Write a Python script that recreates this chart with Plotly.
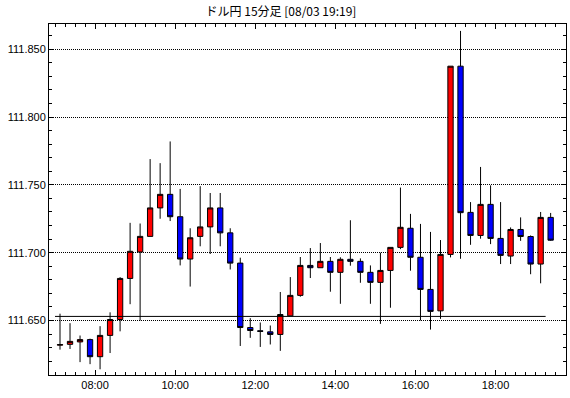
import plotly.graph_objects as go
import pandas as pd

title_text = "ドル円 15分足 [08/03 19:19]"
trade_date = "2018-08-03"

times = ["07:00", "07:15", "07:30", "07:45", "08:00", "08:15", "08:30", "08:45",
         "09:00", "09:15", "09:30", "09:45", "10:00", "10:15", "10:30", "10:45",
         "11:00", "11:15", "11:30", "11:45", "12:00", "12:15", "12:30", "12:45",
         "13:00", "13:15", "13:30", "13:45", "14:00", "14:15", "14:30", "14:45",
         "15:00", "15:15", "15:30", "15:45", "16:00", "16:15", "16:30", "16:45",
         "17:00", "17:15", "17:30", "17:45", "18:00", "18:15", "18:30", "18:45",
         "19:00", "19:15"]

open_ = [111.6318, 111.6324, 111.6342, 111.6359, 111.6233, 111.6390, 111.6507, 111.6810,
         111.7005, 111.7120, 111.7330, 111.7430, 111.7265, 111.6953, 111.7120, 111.7190,
         111.7330, 111.7146, 111.6923, 111.6448, 111.6424, 111.6416, 111.6397, 111.6534,
         111.6685, 111.6906, 111.6889, 111.6936, 111.6855, 111.6951, 111.6936, 111.6855,
         111.6781, 111.6869, 111.7039, 111.7180, 111.6966, 111.6729, 111.6571, 111.6987,
         111.8375, 111.7297, 111.7127, 111.7356, 111.7105, 111.6975, 111.7171, 111.7119,
         111.6916, 111.7260]
high = [111.6550, 111.6480, 111.6389, 111.6366, 111.6458, 111.6560, 111.6820, 111.7220,
        111.7215, 111.7690, 111.7660, 111.7820, 111.7470, 111.7180, 111.7490, 111.7440,
        111.7440, 111.7180, 111.6963, 111.6517, 111.6485, 111.6463, 111.6710, 111.6820,
        111.6968, 111.7034, 111.7071, 111.6968, 111.6966, 111.7239, 111.6958, 111.6906,
        111.7000, 111.7039, 111.7480, 111.7286, 111.7212, 111.7153, 111.7093, 111.8375,
        111.8635, 111.7373, 111.7632, 111.7496, 111.7373, 111.7186, 111.7260, 111.7127,
        111.7300, 111.7293]
low = [111.6285, 111.6290, 111.6193, 111.6178, 111.6140, 111.6260, 111.6420, 111.6620,
       111.6500, 111.7120, 111.7250, 111.7233, 111.6906, 111.6750, 111.7047, 111.6990,
       111.7047, 111.6876, 111.6312, 111.6372, 111.6305, 111.6323, 111.6276, 111.6534,
       111.6675, 111.6813, 111.6889, 111.6712, 111.6623, 111.6904, 111.6778, 111.6623,
       111.6475, 111.6594, 111.7026, 111.6867, 111.6500, 111.6433, 111.6512, 111.6965,
       111.6955, 111.7058, 111.7103, 111.7063, 111.6916, 111.6916, 111.7087, 111.6841,
       111.6774, 111.7087]
close = [111.6322, 111.6346, 111.6359, 111.6233, 111.6390, 111.6507, 111.6810, 111.7010,
         111.7120, 111.7330, 111.7430, 111.7265, 111.6953, 111.7110, 111.7190, 111.7330,
         111.7146, 111.6923, 111.6448, 111.6426, 111.6420, 111.6397, 111.6544, 111.6685,
         111.6906, 111.6889, 111.6936, 111.6855, 111.6951, 111.6936, 111.6855, 111.6781,
         111.6869, 111.7039, 111.7187, 111.6966, 111.6729, 111.6567, 111.6987, 111.8375,
         111.7295, 111.7127, 111.7356, 111.7105, 111.6980, 111.7171, 111.7119, 111.6916,
         111.7260, 111.7092]

ref_price = 111.653

y_tick_step = 0.05
y_range = [111.6098, 111.8686]
x_range_clock = ["06:51", "19:45.5"]

period = pd.Timedelta(minutes=15)
t = pd.to_datetime([f"{trade_date} {s}" for s in times])
x_center = t + period / 2


def clock(s):
    hh, mm = s.split(":")
    return pd.Timestamp(trade_date) + pd.Timedelta(hours=int(hh), minutes=float(mm))


fig = go.Figure()
fig.add_trace(go.Candlestick(
    x=x_center, open=open_, high=high, low=low, close=close,
    increasing=dict(fillcolor="#ff0000", line=dict(color="black", width=1)),
    decreasing=dict(fillcolor="#0000ff", line=dict(color="black", width=1)),
    whiskerwidth=0, showlegend=False, hoverinfo="skip",
))
fig.add_trace(go.Scatter(
    x=[t[0], t[-1]], y=[ref_price, ref_price], mode="lines",
    line=dict(color="black", width=1), showlegend=False, hoverinfo="skip",
))

tick_font = dict(family="Liberation Sans, Arial, sans-serif", size=11, color="black")

fig.update_layout(
    width=570, height=398,
    margin=dict(l=49, r=4, t=24, b=23, autoexpand=False),
    paper_bgcolor="white", plot_bgcolor="white",
    boxgap=0.47, boxgroupgap=0,
    title=dict(text=title_text, x=281 / 570, xanchor="center", xref="container",
               y=1 - 12 / 398, yanchor="middle", yref="container", automargin=False,
               font=dict(family="Noto Sans CJK JP", size=12, color="black")),
    xaxis=dict(
        type="date", automargin=False,
        range=[clock(x_range_clock[0]), clock(x_range_clock[1])],
        rangeslider=dict(visible=False),
        showgrid=False, zeroline=False,
        showline=True, linecolor="black", linewidth=1, mirror="allticks",
        ticks="inside", ticklen=5, tickcolor="black", tickwidth=1,
        tick0=f"{trade_date} 08:00", dtick=2 * 3600 * 1000, tickformat="%H:%M",
        minor=dict(ticks="inside", ticklen=3, tickcolor="black", dtick=15 * 60 * 1000,
                   tick0=f"{trade_date} 08:00", showgrid=False),
        tickfont=tick_font,
    ),
    yaxis=dict(
        automargin=False,
        range=y_range,
        showgrid=True, gridcolor="black", gridwidth=1, griddash="1px,1px",
        zeroline=False,
        showline=True, linecolor="black", linewidth=1, mirror="allticks",
        ticks="inside", ticklen=5, tickcolor="black", tickwidth=1,
        tick0=111.65, dtick=y_tick_step, tickformat=".3f",
        minor=dict(ticks="inside", ticklen=3, tickcolor="black", dtick=0.01,
                   tick0=111.65, showgrid=False),
        tickfont=tick_font,
    ),
)

fig.write_html(
    "out.html",
    config={"displayModeBar": False},
    post_script="document.body.style.margin='0';document.body.style.overflow='hidden';",
)
